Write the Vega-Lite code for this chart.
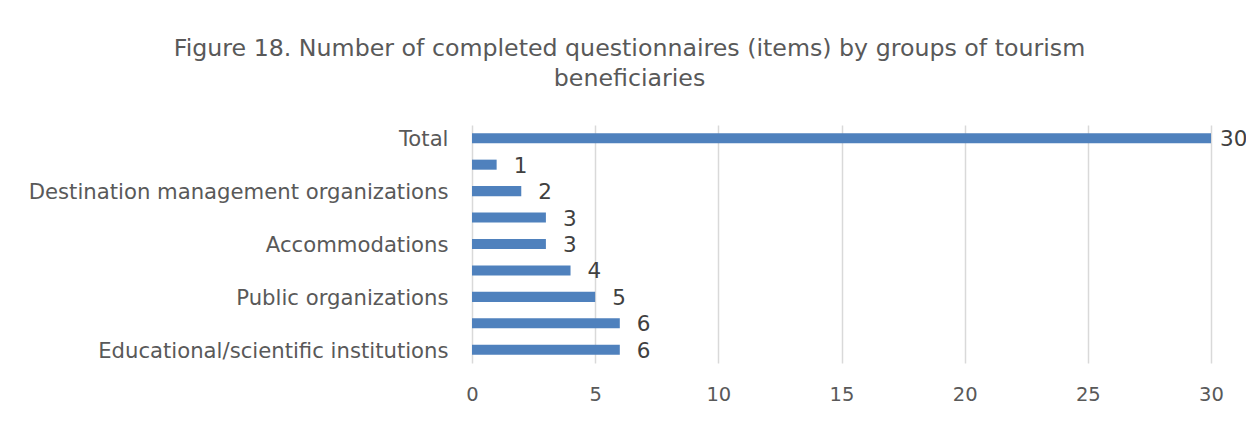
{
  "$schema": "https://vega.github.io/schema/vega-lite/v6.json",
  "autosize": {"type": "none"},
  "width": 739,
  "height": 238,
  "padding": {"left": 472, "top": 125, "right": 35, "bottom": 58},
  "background": "white",
  "title": {
    "text": ["Figure 18. Number of completed questionnaires (items) by groups of tourism", "beneficiaries"],
    "anchor": "middle",
    "frame": "group",
    "dx": -212,
    "fontSize": 23.7,
    "font": "DejaVu Sans",
    "fontWeight": "normal",
    "color": "#595959",
    "lineHeight": 30,
    "offset": 34
  },
  "data": {
    "values": [
      {"group": "Total", "count": 30},
      {"group": "Group A", "count": 1},
      {"group": "Destination management organizations", "count": 2},
      {"group": "Group B", "count": 3},
      {"group": "Accommodations", "count": 3},
      {"group": "Group C", "count": 4},
      {"group": "Public organizations", "count": 5},
      {"group": "Group D", "count": 6},
      {"group": "Educational/scientific institutions", "count": 6}
    ]
  },
  "encoding": {
    "y": {
      "field": "group",
      "type": "nominal",
      "sort": null,
      "scale": {"paddingInner": 0.62, "paddingOuter": 0.31},
      "axis": {
        "title": null,
        "domain": false,
        "ticks": false,
        "labelFont": "DejaVu Sans",
        "labelFontSize": 21.2,
        "labelColor": "#595959",
        "labelPadding": 24,
        "labelOffset": 2,
        "labelLimit": 0,
        "labelExpr": "indexof(datum.label, 'Group ') == 0 ? '' : datum.label"
      }
    },
    "x": {
      "field": "count",
      "type": "quantitative",
      "scale": {"domain": [0, 30]},
      "axis": {
        "title": null,
        "values": [0, 5, 10, 15, 20, 25, 30],
        "domain": false,
        "ticks": false,
        "grid": true,
        "gridColor": "#d9d9d9",
        "gridWidth": 1.5,
        "labelFlush": false,
        "labelFont": "DejaVu Sans",
        "labelFontSize": 19.5,
        "labelColor": "#595959",
        "labelPadding": 22
      }
    }
  },
  "layer": [
    {"mark": {"type": "bar", "color": "#4f81bd"}},
    {
      "mark": {"type": "text", "align": "left", "baseline": "middle", "dx": {"expr": "datum.count >= 30 ? 9 : 17"}, "dy": 2, "font": "DejaVu Sans", "fontSize": 21.5, "color": "#404040"},
      "encoding": {"text": {"field": "count", "type": "quantitative"}}
    }
  ],
  "config": {"view": {"stroke": null}}
}
